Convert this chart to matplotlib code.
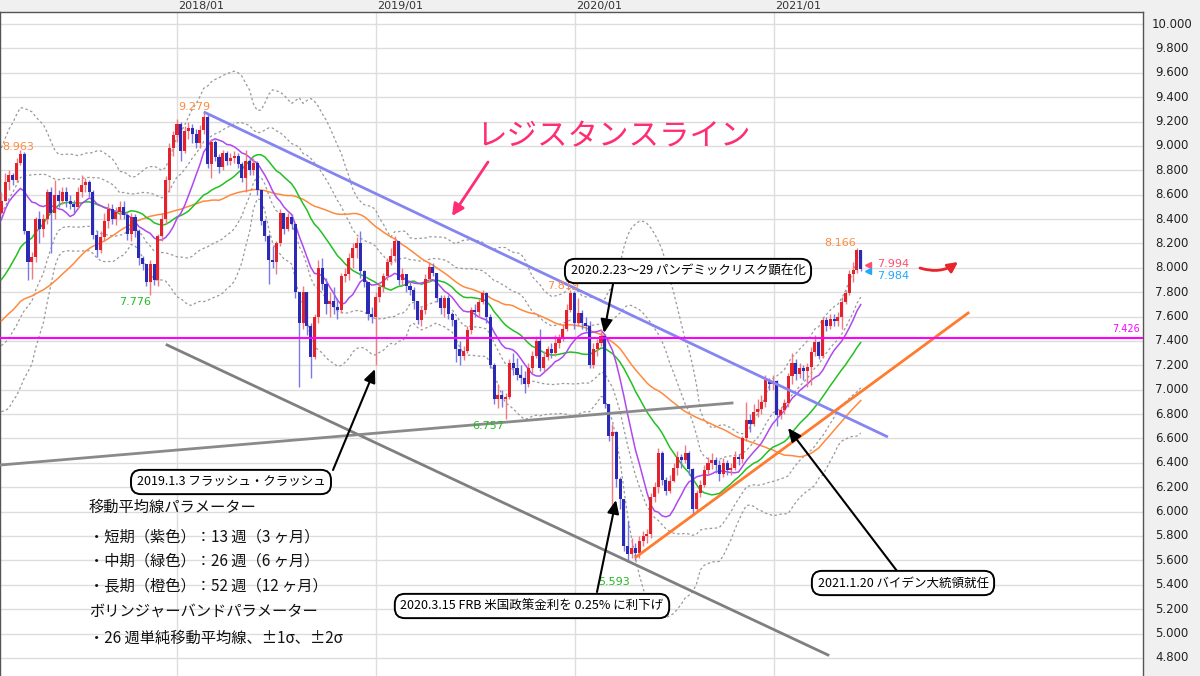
import numpy as np
import pandas as pd
import matplotlib
matplotlib.use("Agg")
import matplotlib.pyplot as plt

plt.rcParams['font.family'] = ['Noto Sans CJK JP', 'DejaVu Sans']

# ---------------- data (weekly ZAR/JPY, week index 0 = first week of 2018) ----------------
# weekly closes before the visible window (they only feed the moving averages)
prior_closes = [7.0, 7.2, 7.3, 7.1, 7.0, 7.2, 7.4, 7.5, 7.5, 7.4, 7.6, 7.5, 7.3,
                7.2, 7.1, 7.0, 7.1, 7.0, 6.9, 6.8, 7.0, 7.1, 7.4, 7.3, 7.4, 7.5,
                7.6, 7.5, 7.3, 7.4, 7.3, 7.4, 7.5, 7.5, 7.2, 7.4, 7.5, 7.3, 7.45,
                7.6, 7.9, 8.2, 8.4, 8.5, 8.6, 8.7, 8.6, 8.5, 8.6, 8.5, 8.45]
first_week = -46
closes = [8.55, 8.70, 8.76, 8.72, 8.86, 8.93, 8.30, 8.05, 8.09, 8.40, 8.32, 8.40, 8.62, 8.45,
          8.60, 8.55, 8.62, 8.55, 8.52, 8.50, 8.62, 8.68, 8.70, 8.62, 8.27, 8.15, 8.25, 8.38,
          8.48, 8.40, 8.46, 8.50, 8.43, 8.28, 8.42, 8.30, 8.08, 8.03, 7.88, 8.03, 7.90, 8.26,
          8.40, 8.72, 8.98, 9.09,
          9.18, 8.96, 9.12, 9.15, 9.10, 9.02, 9.13, 9.24, 8.85, 9.03, 8.91, 8.83, 8.94, 8.88,
          8.90, 8.92, 8.85, 8.74, 8.88, 8.80, 8.86, 8.64, 8.38, 8.26, 8.06, 8.05, 8.20, 8.45,
          8.32, 8.42, 8.36, 7.80, 7.55, 7.80, 7.52, 7.27, 7.60, 8.00, 7.87, 7.70, 7.73, 7.68,
          7.65, 7.93, 7.95, 8.08, 8.16, 8.20, 7.97, 7.88, 7.62, 7.60,
          7.76, 7.84, 7.93, 8.05, 8.10, 8.22, 7.90, 7.95, 7.85, 7.82, 7.73, 7.57, 7.65, 7.91,
          8.01, 7.96, 7.75, 7.67, 7.75, 7.62, 7.57, 7.33, 7.28, 7.32, 7.49, 7.65, 7.64, 7.72,
          7.79, 7.60, 7.20, 6.92, 6.96, 6.92, 6.94, 7.22, 7.18, 7.12, 7.10, 7.05, 7.18, 7.28,
          7.40, 7.18, 7.27, 7.33, 7.30, 7.38, 7.42, 7.50, 7.65, 7.79,
          7.55, 7.63, 7.55, 7.52, 7.20, 7.33, 7.38, 7.44, 6.88, 6.62, 6.65, 6.27, 6.10, 5.72,
          5.65, 5.70, 5.66, 5.76, 5.80, 5.82, 6.12, 6.20, 6.48, 6.26, 6.17, 6.25, 6.36, 6.45,
          6.42, 6.48, 6.35, 6.02, 6.15, 6.22, 6.34, 6.40, 6.42, 6.38, 6.31, 6.40, 6.34, 6.36,
          6.45, 6.43, 6.60, 6.75, 6.72, 6.82, 6.84, 6.90, 7.08, 7.05, 7.07, 6.79,
          6.83, 6.89, 7.11, 7.22, 7.13, 7.18, 7.15, 7.19, 7.31, 7.39, 7.28, 7.57, 7.52, 7.58,
          7.56, 7.60, 7.72, 7.79, 7.95, 7.98, 8.15, 7.99]
highs = [8.62, 8.78, 8.80, 8.78, 8.90, 8.963, 8.95, 8.30, 8.13, 8.42, 8.47, 8.44, 8.65, 8.66,
         8.72, 8.64, 8.66, 8.66, 8.60, 8.56, 8.66, 8.76, 8.74, 8.72, 8.64, 8.30, 8.30, 8.45,
         8.53, 8.52, 8.50, 8.55, 8.55, 8.45, 8.45, 8.44, 8.32, 8.10, 8.02, 8.06, 8.00, 8.28,
         8.45, 8.75, 9.02, 9.12,
         9.22, 9.20, 9.16, 9.20, 9.18, 9.14, 9.17, 9.279, 9.26, 9.06, 9.05, 8.93, 8.97, 8.96,
         8.94, 8.96, 8.94, 8.87, 8.97, 8.90, 8.90, 8.88, 8.64, 8.40, 8.28, 8.18, 8.22, 8.48,
         8.44, 8.45, 8.44, 8.36, 7.80, 7.85, 7.80, 7.55, 7.62, 8.06, 8.08, 7.92, 7.80, 7.84,
         7.75, 7.96, 8.00, 8.12, 8.20, 8.25, 8.30, 7.98, 7.88, 7.68,
         7.80, 7.88, 7.96, 8.08, 8.16, 8.26, 8.08, 8.00, 7.95, 7.88, 7.84, 7.73, 7.68, 7.95,
         8.05, 8.04, 7.95, 7.78, 7.78, 7.78, 7.64, 7.58, 7.40, 7.36, 7.52, 7.68, 7.70, 7.74,
         7.82, 7.80, 7.62, 7.22, 7.05, 7.00, 6.97, 7.25, 7.30, 7.26, 7.20, 7.15, 7.22, 7.32,
         7.44, 7.50, 7.32, 7.36, 7.38, 7.45, 7.46, 7.54, 7.70, 7.815,
         7.81, 7.75, 7.65, 7.60, 7.56, 7.38, 7.42, 7.50, 7.46, 6.85, 6.72, 6.66, 6.28, 6.05,
         5.92, 5.78, 5.74, 5.80, 5.84, 5.86, 6.15, 6.24, 6.52, 6.50, 6.28, 6.30, 6.40, 6.50,
         6.47, 6.55, 6.50, 6.36, 6.18, 6.26, 6.38, 6.45, 6.48, 6.45, 6.42, 6.44, 6.42, 6.40,
         6.50, 6.47, 6.62, 6.90, 6.80, 6.88, 6.92, 6.96, 7.12, 7.10, 7.12, 7.08,
         6.86, 6.92, 7.14, 7.30, 7.25, 7.22, 7.20, 7.22, 7.35, 7.45, 7.40, 7.60, 7.60, 7.62,
         7.62, 7.64, 7.76, 7.82, 7.98, 8.05, 8.166, 8.14]
lows = [8.45, 8.55, 8.64, 8.68, 8.70, 8.84, 8.28, 7.90, 7.91, 8.05, 8.20, 8.25, 8.36, 8.12,
        8.40, 8.50, 8.52, 8.50, 8.48, 8.45, 8.48, 8.58, 8.62, 8.58, 8.24, 8.09, 8.12, 8.22,
        8.33, 8.36, 8.35, 8.40, 8.40, 8.23, 8.22, 8.25, 8.02, 7.98, 7.85, 7.776, 7.86, 7.85,
        8.22, 8.36, 8.62, 8.92,
        9.03, 8.88, 8.94, 9.06, 9.02, 8.98, 8.98, 9.10, 8.82, 8.74, 8.88, 8.78, 8.80, 8.84,
        8.84, 8.86, 8.82, 8.70, 8.62, 8.76, 8.76, 8.60, 8.35, 8.22, 7.87, 8.00, 7.95, 8.18,
        8.28, 8.30, 8.32, 7.75, 7.02, 7.50, 7.45, 7.10, 7.25, 7.55, 7.82, 7.62, 7.60, 7.62,
        7.58, 7.63, 7.88, 7.90, 8.00, 8.08, 7.92, 7.84, 7.57, 7.55,
        7.20, 7.72, 7.80, 7.90, 8.02, 8.05, 7.86, 7.86, 7.80, 7.78, 7.66, 7.54, 7.52, 7.62,
        7.88, 7.93, 7.72, 7.62, 7.60, 7.58, 7.52, 7.23, 7.20, 7.24, 7.30, 7.46, 7.60, 7.60,
        7.70, 7.55, 7.18, 6.88, 6.85, 6.86, 6.757, 6.92, 7.12, 7.08, 7.05, 6.97, 7.02, 7.14,
        7.26, 7.15, 7.15, 7.24, 7.26, 7.28, 7.34, 7.40, 7.48, 7.64,
        7.50, 7.52, 7.50, 7.48, 7.18, 7.18, 7.28, 7.36, 6.85, 6.58, 6.05, 6.20, 6.02, 5.68,
        5.593, 5.62, 5.60, 5.62, 5.72, 5.74, 5.78, 6.08, 6.15, 6.22, 6.14, 6.15, 6.24, 6.30,
        6.36, 6.40, 6.30, 5.97, 6.00, 6.12, 6.20, 6.30, 6.35, 6.32, 6.25, 6.28, 6.30, 6.30,
        6.34, 6.38, 6.40, 6.58, 6.65, 6.70, 6.78, 6.80, 6.86, 7.00, 7.00, 6.70,
        6.76, 6.80, 6.86, 7.05, 7.08, 7.10, 7.08, 7.02, 7.04, 7.28, 7.25, 7.26, 7.48, 7.50,
        7.52, 7.52, 7.50, 7.70, 7.78, 7.88, 7.96, 7.97]

year_labels = ['2018/01', '2019/01', '2020/01', '2021/01']
year_weeks = [0.0, 52.1, 104.2, 156.3]
price_ticks = np.round(np.arange(4.8, 10.01, 0.2), 1)

# hand-drawn trend lines: (week, price) end points
resistance_line = [(7.0, 9.279), (186.1, 6.612)]
gray_line_down = [(-2.6, 7.367), (170.4, 4.824)]
gray_line_up = [(-46.3, 6.382), (145.3, 6.891)]
support_line = [(120.2, 5.628), (207.1, 7.629)]
level_line = 7.426

# ---------------- helpers: pixel -> data ----------------
def X(px):
    return (px - 177.0) / 3.82

def Y(py):
    return 10.0 - (py - 24.0) / 121.9

fig = plt.figure(figsize=(12, 6.76), dpi=100)
fig.patch.set_facecolor('#f0f0f0')
ax = fig.add_axes([0, 0, 1143 / 1200, (676 - 12) / 676])
ax.set_facecolor('white')
ax.set_xlim(X(0), X(1143))
ax.set_ylim(Y(676), Y(12))

for s in ['left', 'right', 'top']:
    ax.spines[s].set_color('#555555')
    ax.spines[s].set_linewidth(1.0)
ax.spines['bottom'].set_visible(False)
ax.set_xticks([])
ax.set_yticks([])

# grid
for p in price_ticks:
    ax.axhline(p, color='#dddddd', lw=1.0, zorder=0)
for w in year_weeks:
    ax.axvline(w, color='#dddddd', lw=1.0, zorder=0)

# right price labels and top date labels
for p in price_ticks:
    fig.text(1172 / 1200, (676 - (24 + (10 - p) * 121.9)) / 676, f'{p:.3f}',
             ha='center', va='center', fontsize=8.5, color='#222222',
             family='DejaVu Sans')
for lab_s, w in zip(year_labels, year_weeks):
    px = 177 + 3.82 * w
    fig.text((px + 1) / 1200, 1 - 6 / 676, lab_s, ha='left', va='center',
             fontsize=8, color='#333333', family='DejaVu Sans')

# ---------------- indicators ----------------
c_all = pd.Series(np.array(prior_closes + closes, dtype=float))
n_prior = len(prior_closes)
ma13 = c_all.rolling(13).mean().values[n_prior:]
ma26 = c_all.rolling(26).mean().values[n_prior:]
ma52 = c_all.rolling(52).mean().values[n_prior:]
sd26 = c_all.rolling(26).std(ddof=0).values[n_prior:]

wk = np.arange(first_week, first_week + len(closes))

for k in (1, 2):
    ax.plot(wk, ma26 + k * sd26, color='#999999', lw=0.9, ls=(0, (2, 2)), zorder=2)
    ax.plot(wk, ma26 - k * sd26, color='#999999', lw=0.9, ls=(0, (2, 2)), zorder=2)
ax.plot(wk, ma52, color='#ff8a3d', lw=1.1, zorder=3)
ax.plot(wk, ma26, color='#22c022', lw=1.1, zorder=3)
ax.plot(wk, ma13, color='#b048f0', lw=1.1, zorder=3)

# ---------------- candles ----------------
c = np.array(closes, dtype=float)
o = np.concatenate([[prior_closes[-1]], c[:-1]])
h = np.maximum(np.array(highs, dtype=float), np.maximum(o, c))
l = np.minimum(np.array(lows, dtype=float), np.minimum(o, c))
up = c >= o
body_col = np.where(up, '#e3222b', '#2a2ab4')
wick_col = np.where(up, '#f07a80', '#7a7ae6')
ax.vlines(wk, l, h, colors=wick_col, lw=1.0, zorder=4)
bottom = np.minimum(o, c)
height = np.maximum(np.abs(c - o), 0.012)
ax.bar(wk, height, bottom=bottom, width=0.8, color=body_col, lw=0, zorder=5)

# ---------------- trend lines ----------------
def seg(pts, **kw):
    ax.plot([pts[0][0], pts[1][0]], [pts[0][1], pts[1][1]], **kw)

seg(resistance_line, color='#8585f2', lw=2.0, zorder=6, solid_capstyle='butt')
seg(gray_line_down, color='#7f7f7f', lw=2.0, zorder=6)
seg(gray_line_up, color='#8a8a8a', lw=2.0, zorder=6)
seg(support_line, color='#ff7b2e', lw=2.0, zorder=6)
ax.axhline(level_line, color='#ff00ff', lw=1.5, zorder=6)
ax.text(X(1140), level_line + 0.03, f'{level_line:.3f}', ha='right', va='bottom',
        fontsize=7, color='#ff00ff', family='DejaVu Sans', zorder=7)

# ---------------- price labels ----------------
def lab(px, py, s, col, ha='center'):
    ax.text(X(px), Y(py), s, ha=ha, va='center', fontsize=8, color=col,
            family='DejaVu Sans', zorder=8)

lab(194, 107, '9.279', '#ff8a3d')
lab(2, 147, '8.963', '#ff8a3d', ha='left')
lab(135, 302, '7.776', '#22bb22')
lab(488, 426, '6.757', '#22bb22')
lab(547, 286, '7.819', '#ff8a3d', ha='left')
lab(614, 582, '5.593', '#22bb22')
lab(840, 243, '8.166', '#ff8a3d')
ax.text(X(877), Y(264), '7.994', ha='left', va='center', fontsize=8, color='#ff4d6d',
        family='DejaVu Sans', zorder=8)
ax.text(X(877), Y(276), '7.984', ha='left', va='center', fontsize=8, color='#1ea8ff',
        family='DejaVu Sans', zorder=8)
ax.plot([X(868)], [Y(265)], marker='<', color='#ff4d6d', ms=5, zorder=8)
ax.plot([X(868)], [Y(271)], marker='<', color='#1ea8ff', ms=5, zorder=8)

# ---------------- headline annotation ----------------
ax.text(X(613), Y(137), 'レジスタンスライン', ha='center', va='center', fontsize=22,
        color='#ff2d72', zorder=9)
ax.annotate('', xy=(X(452), Y(216)), xytext=(X(488), Y(162)),
            arrowprops=dict(arrowstyle='-|>,head_length=0.7,head_width=0.35',
                            color='#ff2d72', lw=2, shrinkA=0, shrinkB=0), zorder=9)
ax.annotate('', xy=(X(958), Y(262)), xytext=(X(920), Y(268)),
            arrowprops=dict(arrowstyle='-|>,head_length=0.6,head_width=0.3',
                            color='#e8252b', lw=2, shrinkA=0, shrinkB=0,
                            connectionstyle='arc3,rad=0.25'), zorder=9)

# ---------------- event boxes ----------------
box = dict(boxstyle='round,pad=0.45,rounding_size=0.8', fc='white', ec='black', lw=1.4)

def event(cx, cy, s, x1, y1, x2, y2):
    ax.annotate('', xy=(X(x2), Y(y2)), xytext=(X(x1), Y(y1)),
                arrowprops=dict(arrowstyle='-|>,head_length=0.8,head_width=0.35',
                                color='black', lw=1.5, shrinkA=0, shrinkB=0), zorder=10)
    ax.text(X(cx), Y(cy), s, ha='center', va='center', fontsize=9, color='black',
            bbox=box, zorder=11)

event(231, 482, '2019.1.3 フラッシュ・クラッシュ', 333, 470, 375, 369)
event(688, 271, '2020.2.23～29 パンデミックリスク顕在化', 613, 284, 604, 333)
event(532, 606, '2020.3.15 FRB 米国政策金利を 0.25% に利下げ', 597, 592, 616, 500)
event(903, 583, '2021.1.20 バイデン大統領就任', 897, 571, 788, 428)

# ---------------- parameter notes ----------------
notes = [(507, '移動平均線パラメーター'),
         (537, '・短期（紫色）：13 週（3 ヶ月）'),
         (561, '・中期（緑色）：26 週（6 ヶ月）'),
         (586, '・長期（橙色）：52 週（12 ヶ月）'),
         (611, 'ボリンジャーバンドパラメーター'),
         (638, '・26 週単純移動平均線、±1σ、±2σ')]
for py, s in notes:
    ax.text(X(89), Y(py), s, ha='left', va='center', fontsize=11, color='#111111', zorder=9)

fig.savefig('out.png', dpi=100, facecolor=fig.get_facecolor())
